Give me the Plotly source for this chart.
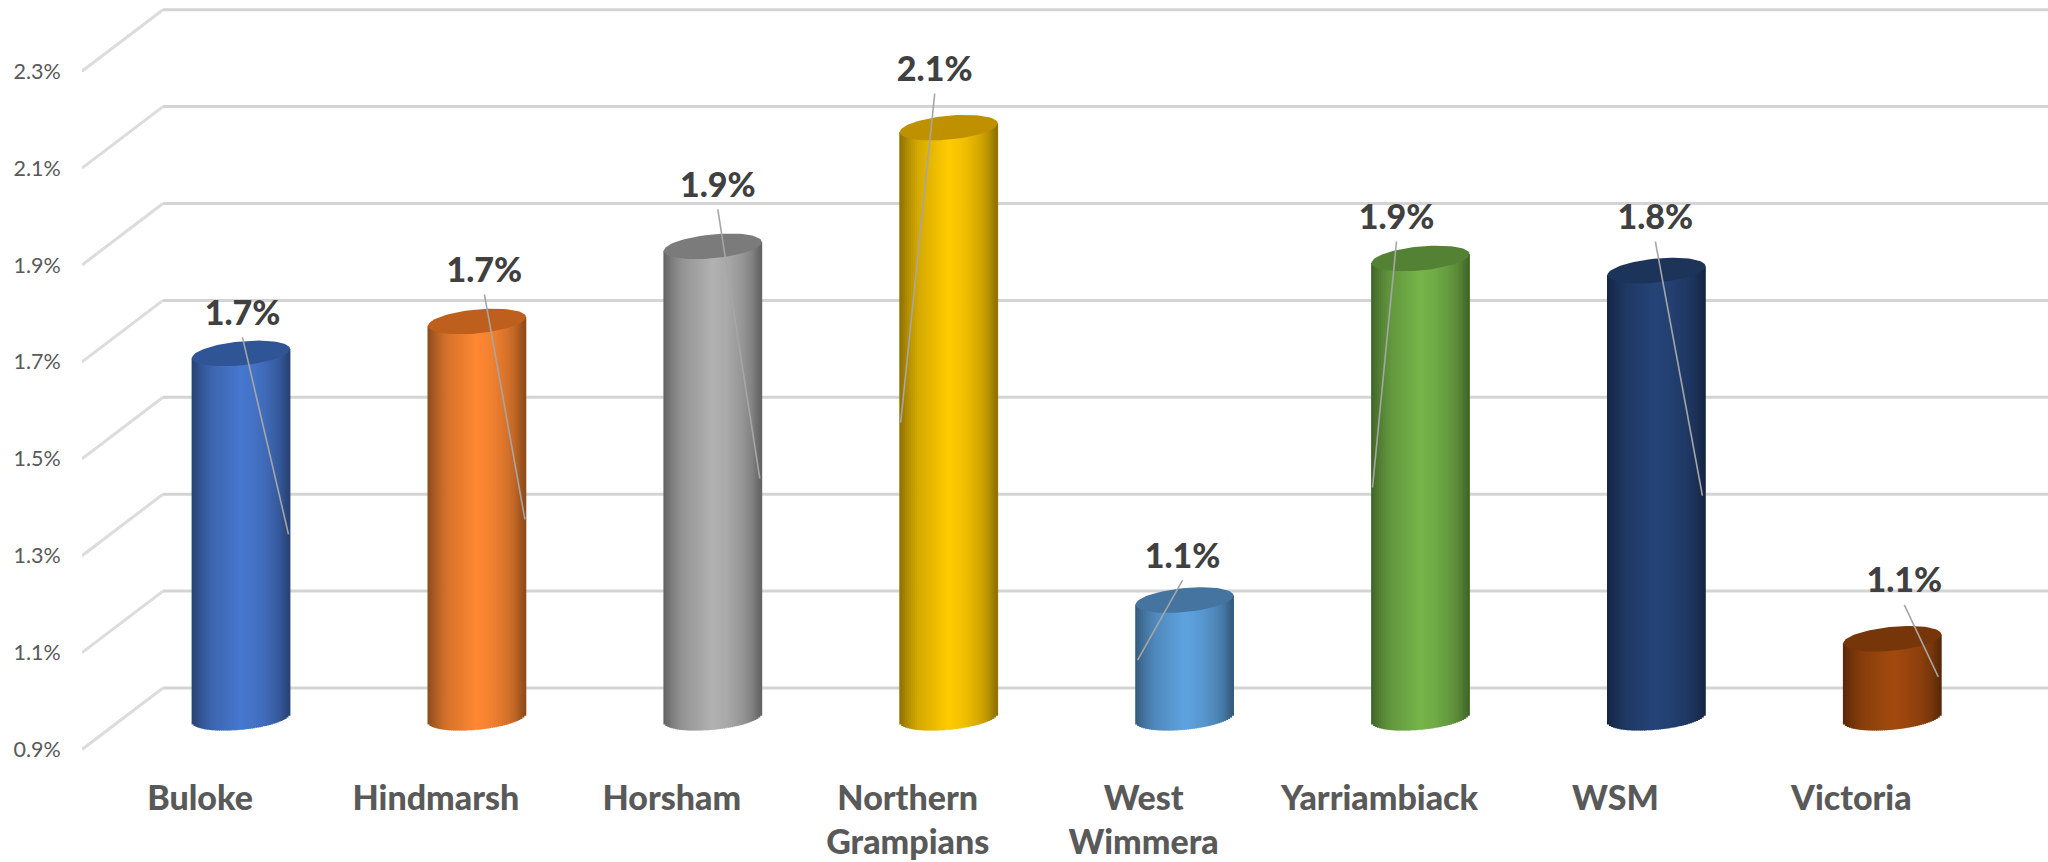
import numpy as np
import plotly.graph_objects as go

# ---- data ----
categories = ["Buloke", "Hindmarsh", "Horsham", "Northern<br>Grampians", "West<br>Wimmera",
              "Yarriambiack", "WSM", "Victoria"]
values = [1.654, 1.72, 1.875, 2.12, 1.145, 1.85, 1.825, 1.065]
y_ticks = [0.9, 1.1, 1.3, 1.5, 1.7, 1.9, 2.1, 2.3]

# ---- styles ----
base_colors = ["#4878D0", "#FF8833", "#B2B2B2", "#FFCB00", "#5FA3E0", "#76B54A", "#264478", "#A34A0F"]
cap_colors = ["#2F5597", "#BE5F1E", "#7B7B7B", "#BF9000", "#44749F", "#548235", "#1C335A", "#77360A"]
label_off = [(1.5, -42), (7.5, -53), (5, -63), (-14, -60), (-2, -46), (-24, -43), (-1, -55), (12, -60)]
leader_end = [(47.5, 181), (48, 198), (47, 232), (-48, 295), (-47, 60), (-48, 229), (46, 225), (46, 38)]

W, H = 2048, 862
ML, MB = 82, 96
PX_PER_UNIT = 484.5     # vertical px per 100% point
PITCH = 235.9           # horizontal px per category
FRONT0 = 200.0          # px of first category on front plane
DEPTH_X, DEPTH_Y = 81.0, 61.5
Y09 = 749.5             # px of 0.9 on front plane

def xd(px):
    return (px - FRONT0) / PITCH
def yd(py):
    return 0.9 + (Y09 - py) / PX_PER_UNIT
def ypx(v):
    return Y09 - (v - 0.9) * PX_PER_UNIT

dxd = DEPTH_X / PITCH
dyd = DEPTH_Y / PX_PER_UNIT

# cylinder geometry in px
A, B, TILT = 49.0, 12.0, 4.5
N = 50

def shade(hexc, f):
    r, g, b = [int(hexc[i:i + 2], 16) for i in (1, 3, 5)]
    return f"rgb({int(r * f)},{int(g * f)},{int(b * f)})"

pos = np.array([0, .04, .1, .2, .35, .5, .65, .8, .9, .96, 1])
fac = np.array([.55, .62, .72, .84, .92, 1, .95, .85, .74, .62, .55])

bx, by, bbase, bw, bc = [], [], [], [], []
edges = np.linspace(-A, A, N + 1)
slice_w = edges[1] - edges[0]
for i, v in enumerate(values):
    cx_px = FRONT0 + PITCH * i + DEPTH_X / 2 + 0.5
    yc = ypx(v) - DEPTH_Y / 2
    yb = ypx(0.9) - DEPTH_Y / 2 - 1
    for j in range(N):
        dx = (edges[j] + edges[j + 1]) / 2
        t = dx / A
        top_px = yc - TILT * t
        bot_px = yb - TILT * t + B * np.sqrt(max(0, 1 - t * t))
        bx.append(xd(cx_px + dx))
        bbase.append(yd(bot_px))
        by.append(yd(top_px) - yd(bot_px))
        bw.append((slice_w + 0.8) / PITCH)
        bc.append(shade(base_colors[i], float(np.interp((t + 1) / 2, pos, fac))))

fig = go.Figure()
fig.add_trace(go.Bar(x=bx, y=by, base=bbase, width=bw, marker=dict(color=bc, line=dict(width=0)),
                     hoverinfo="skip", showlegend=False))

# caps
tt = np.linspace(0, 2 * np.pi, 90)
for i, v in enumerate(values):
    cx_px = FRONT0 + PITCH * i + DEPTH_X / 2 + 0.5
    yc = ypx(v) - DEPTH_Y / 2
    ex = A * np.cos(tt)
    ey = -TILT * np.cos(tt) + B * np.sin(tt)
    fig.add_trace(go.Scatter(x=xd(cx_px + ex), y=yd(yc + ey), mode="lines", fill="toself",
                             fillcolor=cap_colors[i], line=dict(width=0), hoverinfo="skip",
                             showlegend=False))

# leader lines and value labels
lx, ly, tx, ty, txt = [], [], [], [], []
for i, v in enumerate(values):
    cx_px = FRONT0 + PITCH * i + DEPTH_X / 2 + 0.5
    yc = ypx(v) - DEPTH_Y / 2
    ox, oy = label_off[i]
    ex, ey = leader_end[i]
    lx += [xd(cx_px + ox), xd(cx_px + ex), None]
    ly += [yd(yc + oy + 26), yd(yc + ey), None]
    tx.append(xd(cx_px + ox))
    ty.append(yd(yc + oy + 5))
    txt.append(f"{v:.1f}%")
fig.add_trace(go.Scatter(x=lx, y=ly, mode="lines", line=dict(color="#A6A6A6", width=1.6),
                         hoverinfo="skip", showlegend=False))
fig.add_trace(go.Scatter(x=tx, y=ty, mode="text", text=txt, textposition="middle center",
                         textfont=dict(family="Lato", size=34, color="#404040", weight=900),
                         cliponaxis=False, hoverinfo="skip", showlegend=False))

# gridlines on the back wall, side wall lines
x_left = xd(ML)
x_back = xd(ML + DEPTH_X)
shapes = []
for v in y_ticks:
    shapes.append(dict(type="line", layer="below", xref="x", yref="y", x0=x_left, y0=v,
                       x1=x_back, y1=v + dyd, line=dict(color="#DCDCDC", width=3)))
    shapes.append(dict(type="line", layer="below", xref="x", yref="y", x0=x_back, y0=v + dyd,
                       x1=xd(W), y1=v + dyd, line=dict(color="#D4D4D4", width=3)))

fig.update_layout(
    width=W, height=H, margin=dict(l=ML, r=0, t=0, b=MB, autoexpand=False),
    paper_bgcolor="white", plot_bgcolor="white", barmode="overlay", showlegend=False,
    shapes=shapes,
    xaxis=dict(range=[xd(ML), xd(W)], tickmode="array", tickvals=list(range(len(categories))),
               ticktext=categories, showgrid=False, zeroline=False, showline=False,
               ticks="outside", ticklen=2, tickcolor="rgba(0,0,0,0)",
               tickfont=dict(family="Lato", size=34, color="#595959", weight=900)),
    yaxis=dict(range=[yd(H - MB), yd(0)], tickmode="array", tickvals=y_ticks,
               ticktext=[f"{v:.1f}%" for v in y_ticks], showgrid=False, zeroline=False,
               showline=False, ticks="outside", ticklen=16, tickcolor="rgba(0,0,0,0)",
               tickfont=dict(family="Lato", size=21.5, color="#595959")),
)
fig.write_html("out.html", config={"displayModeBar": False},
               post_script="document.body.style.margin='0';document.body.style.overflow='hidden';")
